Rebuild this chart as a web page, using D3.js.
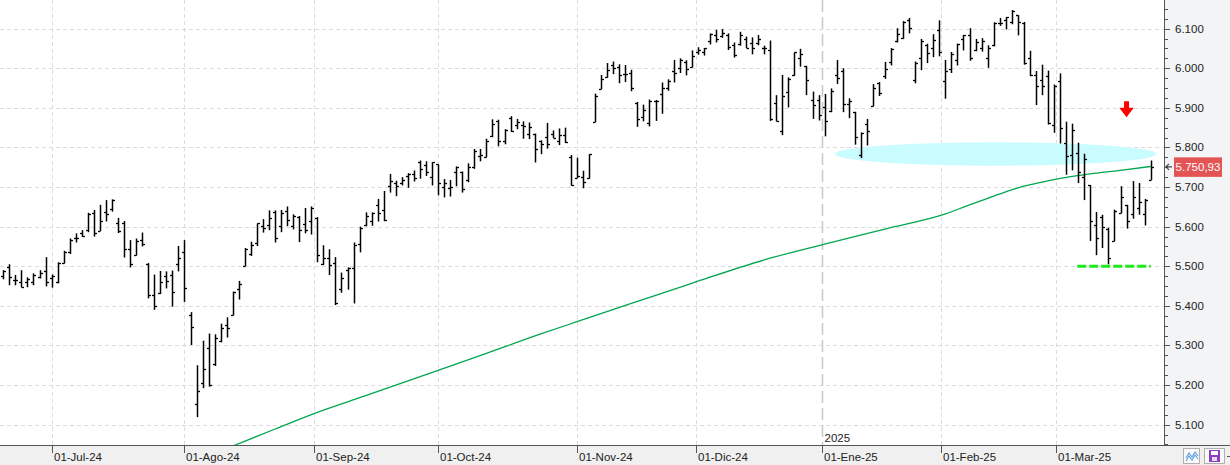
<!DOCTYPE html>
<html><head><meta charset="utf-8">
<script src="https://cdn.jsdelivr.net/npm/d3@7"></script>
<style>
html,body{margin:0;padding:0;background:#fff;overflow:hidden;}
svg{display:block;}
text{font-family:"Liberation Sans",Arial,sans-serif;}
</style></head><body>
<svg id="chart" width="1230" height="465"></svg>
<script>
// ---------------- DATA ----------------
const dates = [
"2024-06-18","2024-06-20","2024-06-21","2024-06-24","2024-06-25","2024-06-26","2024-06-27","2024-06-28",
"2024-07-01","2024-07-02","2024-07-03","2024-07-05","2024-07-08","2024-07-09","2024-07-10","2024-07-11","2024-07-12","2024-07-15","2024-07-16","2024-07-17","2024-07-18","2024-07-19","2024-07-22","2024-07-23","2024-07-24","2024-07-25","2024-07-26","2024-07-29","2024-07-30","2024-07-31",
"2024-08-01","2024-08-02","2024-08-05","2024-08-06","2024-08-07","2024-08-08","2024-08-09","2024-08-12","2024-08-13","2024-08-14","2024-08-15","2024-08-16","2024-08-19","2024-08-20","2024-08-21","2024-08-22","2024-08-23","2024-08-26","2024-08-27","2024-08-28","2024-08-29","2024-08-30",
"2024-09-03","2024-09-04","2024-09-05","2024-09-06","2024-09-09","2024-09-10","2024-09-11","2024-09-12","2024-09-13","2024-09-16","2024-09-17","2024-09-18","2024-09-19","2024-09-20","2024-09-23","2024-09-24","2024-09-25","2024-09-26","2024-09-27","2024-09-30",
"2024-10-01","2024-10-02","2024-10-03","2024-10-04","2024-10-07","2024-10-08","2024-10-09","2024-10-10","2024-10-11","2024-10-14","2024-10-15","2024-10-16","2024-10-17","2024-10-18","2024-10-21","2024-10-22","2024-10-23","2024-10-24","2024-10-25","2024-10-28","2024-10-29","2024-10-30","2024-10-31",
"2024-11-01","2024-11-04","2024-11-05","2024-11-06","2024-11-07","2024-11-08","2024-11-11","2024-11-12","2024-11-13","2024-11-14","2024-11-15","2024-11-18","2024-11-19","2024-11-20","2024-11-21","2024-11-22","2024-11-25","2024-11-26","2024-11-27","2024-11-29",
"2024-12-02","2024-12-03","2024-12-04","2024-12-05","2024-12-06","2024-12-09","2024-12-10","2024-12-11","2024-12-12","2024-12-13","2024-12-16","2024-12-17","2024-12-18","2024-12-19","2024-12-20","2024-12-23","2024-12-24","2024-12-26","2024-12-27","2024-12-30","2024-12-31",
"2025-01-02","2025-01-03","2025-01-06","2025-01-07","2025-01-08","2025-01-10","2025-01-13","2025-01-14","2025-01-15","2025-01-16","2025-01-17","2025-01-21","2025-01-22","2025-01-23","2025-01-24","2025-01-27","2025-01-28","2025-01-29","2025-01-30","2025-01-31",
"2025-02-03","2025-02-04","2025-02-05","2025-02-06","2025-02-07","2025-02-10","2025-02-11","2025-02-12","2025-02-13","2025-02-14","2025-02-18","2025-02-19","2025-02-20","2025-02-21","2025-02-24","2025-02-25","2025-02-26","2025-02-27","2025-02-28",
"2025-03-03","2025-03-04","2025-03-05","2025-03-06","2025-03-07","2025-03-10","2025-03-11","2025-03-12","2025-03-13","2025-03-14","2025-03-17","2025-03-18","2025-03-19","2025-03-20","2025-03-21","2025-03-24"];

const open = [
5476,5499,5466,5459,5460,5460,5474,5488,
5471,5461,5507,5537,5572,5584,5591,5635,5590,5638,5644,5610,5608,5543,5529,5565,5505,5428,5433,5476,5478,5505,
5537,5376,5151,5206,5293,5252,5311,5351,5376,5443,5501,5530,5558,5602,5603,5637,5602,5639,5602,5624,5607,5613,
5623,5506,5520,5507,5442,5490,5496,5557,5604,5615,5655,5641,5703,5709,5711,5727,5733,5762,5756,5726,
5757,5699,5698,5737,5737,5719,5751,5778,5775,5830,5866,5816,5875,5857,5857,5833,5835,5816,5827,5833,5816,5832,5775,
5724,5725,5722,5864,5947,5977,6008,6003,5986,5989,5913,5878,5861,5916,5934,5950,5993,6000,6015,6004,
6040,6042,6069,6085,6081,6084,6058,6061,6075,6063,6063,6052,6047,5912,5842,5940,5984,6025,6006,5920,5920,
5903,5891,5982,5993,5910,5890,5782,5859,5905,5963,5980,6015,6069,6076,6121,5970,6027,6058,6050,6097,
5969,5998,6020,6073,6083,6046,6050,6026,6058,6115,6121,6118,6134,6115,6027,5982,5970,5981,5857,
5968,5811,5782,5785,5726,5705,5603,5624,5594,5563,5635,5654,5633,5646,5632,5718];

const high = [
5490,5505,5478,5490,5472,5482,5490,5523,
5479,5510,5539,5570,5583,5591,5635,5642,5655,5667,5669,5622,5614,5566,5570,5585,5508,5479,5488,5487,5489,5551,
5566,5384,5250,5312,5330,5328,5355,5371,5436,5463,5546,5562,5608,5619,5641,5641,5642,5651,5631,5627,5647,5651,
5624,5553,5543,5523,5484,5497,5560,5600,5636,5636,5670,5690,5733,5716,5725,5735,5742,5767,5765,5763,
5757,5720,5718,5752,5739,5760,5796,5796,5822,5871,5870,5846,5879,5872,5866,5863,5835,5818,5862,5843,5848,5850,5781,
5774,5741,5783,5936,5983,6013,6017,6010,6008,5996,5915,5908,5921,5920,5964,5972,6021,6025,6020,6045,
6053,6051,6088,6097,6099,6088,6065,6092,6080,6078,6084,6057,6070,5932,5983,5977,6040,6049,6006,5941,5932,
5935,5949,6021,6000,5924,5890,5838,5872,5960,5965,6016,6051,6101,6119,6127,6017,6074,6062,6086,6121,
6021,6041,6062,6084,6101,6074,6076,6058,6116,6127,6129,6147,6134,6117,6044,5993,6009,5994,5959,
5987,5865,5860,5812,5784,5705,5637,5630,5597,5643,5702,5655,5715,5710,5670,5767];

const low = [
5467,5452,5452,5447,5447,5452,5469,5449,
5446,5457,5507,5531,5560,5574,5586,5575,5589,5613,5638,5584,5522,5497,5527,5550,5419,5390,5430,5444,5398,5487,
5410,5301,5119,5192,5196,5248,5308,5320,5376,5416,5500,5526,5551,5585,5591,5560,5586,5601,5593,5561,5583,5580,
5510,5503,5478,5402,5433,5441,5406,5535,5601,5602,5613,5614,5686,5677,5704,5698,5714,5721,5728,5704,
5679,5674,5676,5702,5686,5712,5746,5765,5775,5826,5803,5808,5839,5846,5822,5821,5762,5783,5797,5824,5806,5811,5703,
5723,5697,5721,5864,5947,5976,5985,5962,5965,5942,5852,5866,5853,5867,5885,5943,5964,5988,5982,6002,
6034,6032,6060,6065,6077,6046,6027,6057,6051,6035,6058,6035,5867,5866,5831,5901,5981,6004,5932,5872,5868,
5828,5889,5960,5889,5874,5807,5773,5805,5904,5930,5973,6007,6065,6074,6088,5962,5995,6013,6028,6030,
5923,5988,6007,6045,6019,6043,6042,6001,6055,6107,6098,6111,6083,6009,5980,5907,5932,5858,5837,
5810,5731,5742,5710,5667,5564,5528,5546,5505,5563,5634,5595,5620,5630,5603,5718];

const close = [
5487,5473,5464,5448,5469,5478,5483,5460,
5475,5509,5537,5567,5572,5577,5633,5585,5615,5631,5667,5588,5544,5505,5564,5555,5427,5399,5459,5463,5436,5522,
5446,5346,5186,5240,5199,5319,5344,5344,5434,5455,5543,5554,5608,5597,5621,5571,5635,5617,5626,5592,5592,5648,
5529,5520,5503,5408,5471,5496,5554,5596,5626,5634,5635,5618,5714,5703,5719,5733,5722,5745,5738,5762,
5709,5709,5700,5751,5696,5751,5792,5780,5815,5859,5815,5843,5841,5865,5853,5851,5797,5809,5808,5823,5832,5813,5705,
5729,5712,5783,5929,5973,5996,6001,5984,5985,5949,5871,5894,5917,5917,5949,5969,5988,6021,5999,6032,
6047,6050,6086,6075,6090,6053,6034,6085,6051,6051,6074,6051,5872,5867,5930,5974,6040,6037,5970,5907,5882,
5868,5942,5975,5909,5918,5827,5837,5842,5950,5937,5997,6049,6086,6118,6101,6012,6068,6039,6071,6040,
5994,6037,6061,6083,6026,6066,6068,6052,6115,6115,6129,6144,6117,6013,5983,5955,5956,5861,5955,
5850,5778,5843,5739,5770,5615,5572,5599,5522,5639,5675,5615,5675,5663,5668,5750.93];

// long moving average, read at a set of dates
const maDates  = ["2024-08-08","2024-08-13","2024-08-22","2024-09-03","2024-09-13","2024-10-01","2024-10-11","2024-10-24","2024-11-01","2024-11-14","2024-11-29","2024-12-17","2025-01-02","2025-01-17","2025-02-03","2025-02-07","2025-02-13","2025-02-18","2025-02-20","2025-02-25","2025-03-03","2025-03-10","2025-03-17","2025-03-24"];
const maValues = [5027,5046,5089,5131,5173,5237,5280,5329,5360,5406,5457,5516,5556,5594,5632,5655,5677,5688,5698,5709,5722,5733,5742,5752];

const monthTicks  = ["2024-07-01","2024-08-01","2024-09-01","2024-10-01","2024-11-01","2024-12-01","2025-01-01","2025-02-01","2025-03-01"];
const monthLabels = ["01-Jul-24","01-Ago-24","01-Sep-24","01-Oct-24","01-Nov-24","01-Dic-24","01-Ene-25","01-Feb-25","01-Mar-25"];
const yearMark = "2025-01-01", yearLabel = "2025";
const priceTicks = [5100,5200,5300,5400,5500,5600,5700,5800,5900,6000,6100];
const lastPrice = 5750.93;
const supportLevel = 5500, supportFrom = "2025-03-06", supportTo = "2025-03-24";
const zoneLow = 5754, zoneHigh = 5813, zoneFrom = "2025-01-06", zoneToDate = "2025-03-24";
const signalDate = "2025-03-18", signalPrice = 5876;

// ---------------- CHART ----------------
const svg = d3.select("#chart");
const W = 1230, H = 465, PR = 1164, PB = 445;
const idx = new Map(dates.map((d,i)=>[d,i]));
const xs = d3.scaleLinear().domain([0, dates.length-1]).range([3.3, 1150.7]);
const ys = d3.scaleLinear().domain([5048.6, 6172.3]).range([PB, 0]);
const parse = d3.timeParse("%Y-%m-%d");
const tdates = dates.map(parse);
function fracIndex(s){
  if (idx.has(s)) return idx.get(s);
  const t = parse(s);
  const n = d3.bisectLeft(tdates, t);
  const p = n-1;
  return p + (t - tdates[p])/(tdates[n]-tdates[p]);
}
const loc = d3.formatLocale({decimal:",",thousands:".",grouping:[3],currency:["",""]});
const fmtInt = loc.format(",d"), fmt2 = loc.format(",.2f");

// backgrounds
svg.append("rect").attr("x",0).attr("y",0).attr("width",W).attr("height",H).attr("fill","#fff");
svg.append("rect").attr("x",PR+1).attr("y",0).attr("width",W-PR-1).attr("height",PB).attr("fill","#f3f4f6");
svg.append("rect").attr("x",0).attr("y",PB).attr("width",W).attr("height",H-PB).attr("fill","#f0f0f0");

svg.append("defs").append("clipPath").attr("id","clip")
  .append("rect").attr("x",0).attr("y",0).attr("width",PR).attr("height",PB);

const plot = svg.append("g").attr("clip-path","url(#clip)");

// grid
plot.selectAll("line.hg").data(priceTicks).join("line")
  .attr("x1",0).attr("x2",PR)
  .attr("y1",d=>Math.round(ys(d))+0.5).attr("y2",d=>Math.round(ys(d))+0.5)
  .attr("stroke","#dcdcdc").attr("stroke-width",1).attr("stroke-dasharray","4,3");
const tickX = monthTicks.map(s=>xs(fracIndex(s)));
plot.selectAll("line.vg").data(monthTicks.filter(s=>s!==yearMark)).join("line")
  .attr("x1",s=>Math.round(xs(fracIndex(s)))+0.5).attr("x2",s=>Math.round(xs(fracIndex(s)))+0.5)
  .attr("y1",0).attr("y2",PB)
  .attr("stroke","#dcdcdc").attr("stroke-width",1).attr("stroke-dasharray","4,3");
const yx = Math.round(xs(fracIndex(yearMark)))+0.5;
plot.append("line").attr("x1",yx).attr("x2",yx).attr("y1",0).attr("y2",PB)
  .attr("stroke","#c8c8c8").attr("stroke-width",1.5).attr("stroke-dasharray","12,5");

// zone ellipse
const zx0 = xs(idx.get(zoneFrom)) - 2, zx1 = xs(idx.get(zoneToDate)) + 6;
plot.append("ellipse")
  .attr("cx",(zx0+zx1)/2).attr("cy",(ys(zoneLow)+ys(zoneHigh))/2)
  .attr("rx",(zx1-zx0)/2).attr("ry",(ys(zoneLow)-ys(zoneHigh))/2)
  .attr("fill","#c9fcff");

// moving average
plot.append("path")
  .datum(maDates.map((d,i)=>[idx.get(d), maValues[i]]))
  .attr("d", d3.line().curve(d3.curveMonotoneX).x(d=>xs(d[0])).y(d=>ys(d[1])))
  .attr("fill","none").attr("stroke","#00a651").attr("stroke-width",1.3);

// support line
plot.append("line")
  .attr("x1",xs(idx.get(supportFrom))-1).attr("x2",xs(idx.get(supportTo)))
  .attr("y1",ys(supportLevel)).attr("y2",ys(supportLevel))
  .attr("stroke","#1ee81e").attr("stroke-width",3).attr("stroke-dasharray","9,3");

// OHLC bars
const px = i => Math.round(xs(i)) + 0.5;
const bars = plot.append("g").selectAll("g").data(d3.range(dates.length)).join("g")
  .attr("stroke","#000");
bars.append("line").attr("x1",px).attr("x2",px)
  .attr("y1",i=>ys(high[i])).attr("y2",i=>ys(low[i])).attr("stroke-width",1.5);
bars.append("line").attr("x1",i=>px(i)-2.5).attr("x2",px)
  .attr("y1",i=>Math.round(ys(open[i]))+0.5).attr("y2",i=>Math.round(ys(open[i]))+0.5).attr("stroke-width",1.3);
bars.append("line").attr("x1",px).attr("x2",i=>px(i)+2.5)
  .attr("y1",i=>Math.round(ys(close[i]))+0.5).attr("y2",i=>Math.round(ys(close[i]))+0.5).attr("stroke-width",1.3);

// red signal arrow
const ax = xs(idx.get(signalDate)), ay = ys(signalPrice);
plot.append("path")
  .attr("d",`M${ax-2.5},${ay-16} L${ax+2.5},${ay-16} L${ax+2.5},${ay-9.5} L${ax+7.2},${ay-9.5} L${ax},${ay} L${ax-7.3},${ay-9.5} L${ax-2.5},${ay-9.5} Z`)
  .attr("fill","#ff0000");

// year label
svg.append("text").attr("x",yx+2).attr("y",PB-3).attr("font-size",11.5).attr("fill","#222").text(yearLabel);

// axes lines
svg.append("line").attr("x1",PR+0.5).attr("x2",PR+0.5).attr("y1",0).attr("y2",PB).attr("stroke","#555");
svg.append("line").attr("x1",0).attr("x2",W).attr("y1",PB+0.5).attr("y2",PB+0.5).attr("stroke","#555");

// y ticks
const minor = d3.range(5050, 6175, 25).filter(v=>v%100!==0);
svg.selectAll("line.ymin").data(minor).join("line")
  .attr("x1",PR+1).attr("x2",PR+4)
  .attr("y1",d=>Math.round(ys(d))+0.5).attr("y2",d=>Math.round(ys(d))+0.5).attr("stroke","#555");
svg.selectAll("line.ymaj").data(priceTicks).join("line")
  .attr("x1",PR+1).attr("x2",PR+6)
  .attr("y1",d=>Math.round(ys(d))+0.5).attr("y2",d=>Math.round(ys(d))+0.5).attr("stroke","#555");
svg.selectAll("text.yl").data(priceTicks).join("text")
  .attr("x",PR+11).attr("y",d=>ys(d)+4).attr("font-size",11.5).attr("fill","#222")
  .text(d=>fmtInt(d));

// x ticks
svg.selectAll("line.xt").data(tickX).join("line")
  .attr("x1",d=>Math.round(d)+0.5).attr("x2",d=>Math.round(d)+0.5)
  .attr("y1",PB).attr("y2",PB+8).attr("stroke","#555");
svg.selectAll("text.xl").data(monthLabels).join("text")
  .attr("x",(d,i)=>Math.round(tickX[i])+2).attr("y",PB+16).attr("font-size",11.5).attr("fill","#222")
  .text(d=>d);

// last price label
const ly = ys(lastPrice);
svg.append("rect").attr("x",PR+10).attr("y",ly-9.5).attr("width",48).attr("height",19.5).attr("fill","#e45454");
svg.append("text").attr("x",PR+34).attr("y",ly+4).attr("text-anchor","middle").attr("font-size",11.5).attr("fill","#fff")
  .text(fmt2(lastPrice));
svg.append("path").attr("d",`M${PR+8},${ly} L${PR+2},${ly} M${PR+5},${ly-3} L${PR+2},${ly} L${PR+5},${ly+3}`)
  .attr("stroke","#444").attr("fill","none").attr("stroke-width",1.2);

// bottom-right icons
svg.append("rect").attr("x",1183.5).attr("y",448.5).attr("width",16).attr("height",15).attr("fill","#fafafa").attr("stroke","#b0b0b0");
svg.append("path").attr("d","M1186,458 L1189,453 L1192,457 L1195,452 L1198,456 M1186,461 L1189,456 L1192,460 L1195,455 L1198,459")
  .attr("stroke","#5aa0e0").attr("fill","none").attr("stroke-width",1.1);
svg.append("rect").attr("x",1204.5).attr("y",448.5).attr("width",20).attr("height",15).attr("fill","#fafafa").attr("stroke","#b0b0b0");
svg.append("rect").attr("x",1209).attr("y",450).attr("width",11).attr("height",12).attr("fill","#8b3fc2");
svg.append("rect").attr("x",1211).attr("y",451).attr("width",7).attr("height",4).attr("fill","#fff");
svg.append("rect").attr("x",1212).attr("y",457).attr("width",5).attr("height",4).attr("fill","#e8d8f4");
svg.append("line").attr("x1",1227).attr("x2",1230).attr("y1",456.5).attr("y2",456.5).attr("stroke","#555");

// sanity
if (![open,high,low,close].every(a=>a.length===dates.length))
  svg.append("text").attr("x",300).attr("y",100).attr("fill","red").text("LENGTH MISMATCH");
</script>
</body></html>
